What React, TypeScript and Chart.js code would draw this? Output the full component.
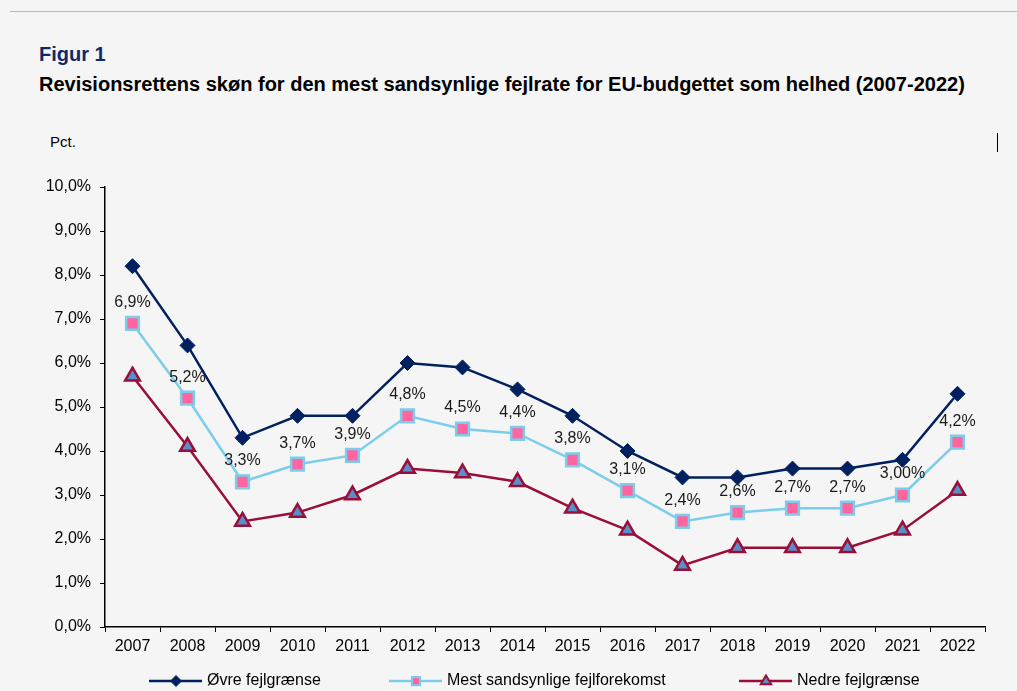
import React, { useEffect, useRef } from "react";
import { Chart, registerables } from "chart.js";

Chart.register(...registerables);

const years = ["2007","2008","2009","2010","2011","2012","2013","2014","2015","2016","2017","2018","2019","2020","2021","2022"];
const upperLimit = [8.2, 6.4, 4.3, 4.8, 4.8, 6.0, 5.9, 5.4, 4.8, 4.0, 3.4, 3.4, 3.6, 3.6, 3.8, 5.3];
const mostLikely = [6.9, 5.2, 3.3, 3.7, 3.9, 4.8, 4.5, 4.4, 3.8, 3.1, 2.4, 2.6, 2.7, 2.7, 3.0, 4.2];
const lowerLimit = [5.7, 4.1, 2.4, 2.6, 3.0, 3.6, 3.5, 3.3, 2.7, 2.2, 1.4, 1.8, 1.8, 1.8, 2.2, 3.1];
const mostLikelyLabels = ["6,9%","5,2%","3,3%","3,7%","3,9%","4,8%","4,5%","4,4%","3,8%","3,1%","2,4%","2,6%","2,7%","2,7%","3,00%","4,2%"];
const seriesNames = ["Øvre fejlgrænse", "Mest sandsynlige fejlforekomst", "Nedre fejlgrænse"];

const FONT = "'Liberation Sans', Arial, sans-serif";

function drawMarker(ctx: CanvasRenderingContext2D, style: string, x: number, y: number, r: number) {
  ctx.beginPath();
  if (style === "rectRot") {
    ctx.moveTo(x, y - r);
    ctx.lineTo(x + r, y);
    ctx.lineTo(x, y + r);
    ctx.lineTo(x - r, y);
  } else if (style === "rect") {
    ctx.rect(x - r * 0.75, y - r * 0.75, r * 1.5, r * 1.5);
  } else {
    ctx.moveTo(x, y - r);
    ctx.lineTo(x + r * 0.95, y + r * 0.6);
    ctx.lineTo(x - r * 0.95, y + r * 0.6);
  }
  ctx.closePath();
  ctx.fill();
  ctx.stroke();
}

const labelPlugin = {
  id: "midLabels",
  afterDatasetsDraw(chart: any) {
    const ctx = chart.ctx;
    const meta = chart.getDatasetMeta(1);
    ctx.save();
    ctx.font = `16px ${FONT}`;
    ctx.fillStyle = "#1a1a1a";
    ctx.textAlign = "center";
    ctx.textBaseline = "middle";
    meta.data.forEach((pt: any, i: number) => {
      ctx.fillText(mostLikelyLabels[i], pt.x, pt.y - 21);
    });
    ctx.restore();
  },
};

const legendPlugin = {
  id: "customLegend",
  afterDraw(chart: any) {
    const ctx = chart.ctx;
    const items = [
      { x: 149, ds: 0 },
      { x: 389, ds: 1 },
      { x: 739, ds: 2 },
    ];
    const y = 681;
    ctx.save();
    items.forEach((it) => {
      const ds = chart.data.datasets[it.ds];
      ctx.strokeStyle = ds.borderColor;
      ctx.lineWidth = 2.5;
      ctx.beginPath();
      ctx.moveTo(it.x, y);
      ctx.lineTo(it.x + 53, y);
      ctx.stroke();
      ctx.fillStyle = ds.pointBackgroundColor;
      ctx.strokeStyle = ds.pointBorderColor;
      ctx.lineWidth = Math.min(ds.pointBorderWidth, 2);
      drawMarker(ctx, ds.pointStyle, it.x + 27, y, 5.5);
      ctx.fillStyle = "#000";
      ctx.font = `16px ${FONT}`;
      ctx.textAlign = "left";
      ctx.textBaseline = "middle";
      ctx.fillText(seriesNames[it.ds], it.x + 58, y);
    });
    ctx.restore();
  },
};

export default function App() {
  const ref = useRef<HTMLCanvasElement | null>(null);
  useEffect(() => {
    if (!ref.current) return;
    const chart = new Chart(ref.current, {
      type: "line",
      data: {
        labels: years,
        datasets: [
          {
            label: seriesNames[0],
            data: upperLimit,
            borderColor: "#002060",
            borderWidth: 2.5,
            pointStyle: "rectRot",
            pointRadius: 7.5,
            pointBackgroundColor: "#002060",
            pointBorderColor: "#002060",
            pointBorderWidth: 1,
          },
          {
            label: seriesNames[1],
            data: mostLikely,
            borderColor: "#7ccdec",
            borderWidth: 2.5,
            pointStyle: "rect",
            pointRadius: 9,
            pointBackgroundColor: "#ff66a0",
            pointBorderColor: "#7ccdec",
            pointBorderWidth: 2.5,
          },
          {
            label: seriesNames[2],
            data: lowerLimit,
            borderColor: "#9a0f38",
            borderWidth: 2.5,
            pointStyle: "triangle",
            pointRadius: 8.5,
            pointBackgroundColor: "#5a8ecb",
            pointBorderColor: "#9a0f38",
            pointBorderWidth: 2.5,
          },
        ],
      },
      options: {
        animation: false,
        responsive: false,
        devicePixelRatio: 1,
        layout: { padding: { top: 187, right: 32, left: 0, bottom: 0 } },
        plugins: { legend: { display: false }, tooltip: { enabled: false }, title: { display: false } },
        scales: {
          x: {
            offset: true,
            grid: { offset: true, drawOnChartArea: false, drawTicks: true, tickLength: 5, color: "#000", lineWidth: 1 },
            border: { display: true, color: "#000", width: 1.5 },
            ticks: { color: "#000", font: { family: FONT, size: 16 }, padding: 5, maxRotation: 0, autoSkip: false },
            afterFit: (s: any) => { s.height = 64; },
          },
          y: {
            min: 0,
            max: 10,
            grid: { drawOnChartArea: false, drawTicks: true, tickLength: 5, color: "#000", lineWidth: 1 },
            border: { display: true, color: "#000", width: 1.5 },
            ticks: {
              stepSize: 1,
              color: "#000",
              font: { family: FONT, size: 16 },
              padding: 9,
              callback: (v: any) => Number(v).toFixed(1).replace(".", ",") + "%",
            },
            afterFit: (s: any) => { s.width = 105; },
          },
        },
      },
      plugins: [labelPlugin, legendPlugin],
    });
    return () => chart.destroy();
  }, []);

  return (
    <div style={{ position: "fixed", left: 0, top: 0, width: 1017, height: 691, background: "#f5f5f5", overflow: "hidden", fontFamily: FONT }}>
      <div style={{ position: "absolute", left: 10, right: 0, top: 11, height: 1, background: "#b8b8b8" }} />
      <div style={{ position: "absolute", left: 39, top: 43, fontSize: 20, fontWeight: "bold", color: "#0f2a6b" }}>Figur 1</div>
      <div style={{ position: "absolute", left: 39, top: 73, fontSize: 20, fontWeight: "bold", color: "#000", whiteSpace: "nowrap" }}>
        Revisionsrettens skøn for den mest sandsynlige fejlrate for EU-budgettet som helhed (2007-2022)
      </div>
      <div style={{ position: "absolute", left: 50, top: 133, fontSize: 15, color: "#000" }}>Pct.</div>
      <div style={{ position: "absolute", left: 997, top: 133, width: 1, height: 19, background: "#000" }} />
      <canvas ref={ref} width={1017} height={691} style={{ position: "absolute", left: 0, top: 0 }} />
    </div>
  );
}
